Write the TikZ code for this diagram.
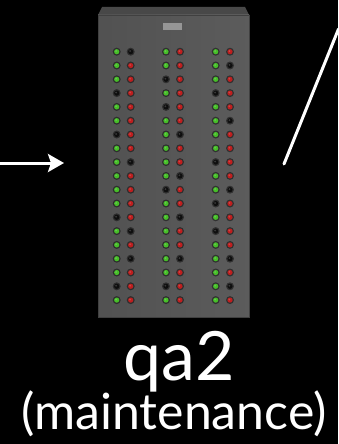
\documentclass[tikz,border=0pt]{standalone}
\usepackage{fontspec}
\setmainfont{Lato}
\usetikzlibrary{arrows.meta}
\definecolor{ledG}{RGB}{70,190,40}
\definecolor{ledR}{RGB}{190,30,30}
\definecolor{ledK}{RGB}{14,14,14}
\definecolor{caseTop}{RGB}{72,72,72}
\definecolor{casePlate}{RGB}{150,150,150}
\tikzset{
  wire/.style={white, line width=3pt},
  feed/.style={wire, -{Stealth[length=16pt,width=18pt,inset=3pt]}},
  label big/.style={white, anchor=base, inner sep=0pt, font=\fontsize{68}{68}\selectfont},
  label small/.style={white, anchor=base, inner sep=0pt, font=\fontsize{50}{50}\selectfont},
}
\begin{document}
\begin{tikzpicture}[x=1pt,y=-1pt]
  \fill[black] (0,0) rectangle (338,444);
  \useasboundingbox (0,0) rectangle (338,444);

  % server cabinet
  \fill[caseTop] (102,7) -- (245,7) -- (249,15) -- (98,15) -- cycle;
  \shade[left color=black!68, middle color=black!58, right color=black!64]
    (98,15) rectangle (249,317);
  \draw[black!75, line width=0.6pt] (98,15) rectangle (249,317);
  \fill[casePlate] (163,23) rectangle (182,30);
  \node[inner sep=0pt, minimum width=151pt, minimum height=310pt] (qa2) at (173.5,162) {};

  % status lights, one row per line: three pairs
  \foreach \a/\b/\c/\d/\e/\f [count=\i from 0] in {
    G/K/G/R/G/R, G/R/G/R/G/K, G/R/K/R/G/R, K/R/G/R/K/R,
    G/R/K/R/G/R, G/R/G/R/G/K, K/R/G/K/G/R, G/R/G/R/G/R,
    G/K/G/R/K/R, G/R/G/K/G/R, G/R/K/R/G/K, G/R/G/R/K/R,
    K/R/G/K/G/R, G/K/G/R/K/R, G/R/G/R/G/R, G/K/G/K/G/K,
    G/R/G/R/G/R, K/R/K/R/G/K, G/R/G/R/G/R}{
    \pgfmathsetmacro\yy{51.7+13.8*\i}
    \foreach \xx/\cc in {116.7/\a,130.7/\b,166/\c,180/\d,215.7/\e,230/\f}{
      \fill[black, opacity=0.45] (\xx,\yy) circle (4pt);
      \fill[led\cc] (\xx,\yy) circle (2.6pt);
      \fill[white, opacity=0.18] (\xx-0.6,\yy-0.6) circle (1pt);
    }
  }

  % connectors
  \coordinate (src) at (0,163);
  \coordinate (tip) at (64,163);
  \draw[feed] (src) -- (tip);
  \coordinate (up) at (338.5,29);
  \coordinate (down) at (284,164);
  \draw[wire, line cap=round] (down) -- (up);

  % labels
  \node[label big] (name) at (179,380) {qa2};
  \node[label small] (state) at (174,429) {(maintenance)};
\end{tikzpicture}
\end{document}
